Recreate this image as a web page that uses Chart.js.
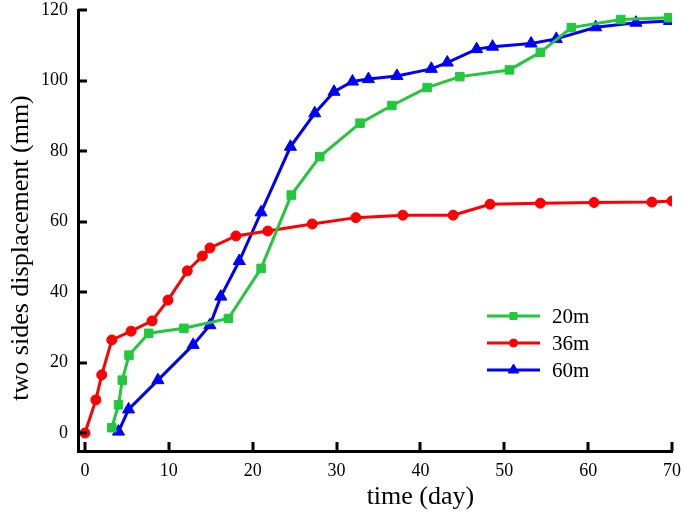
<!DOCTYPE html>
<html>
<head>
<meta charset="utf-8">
<script src="https://cdn.jsdelivr.net/npm/chart.js@4.4.1/dist/chart.umd.min.js"></script>
<style>
  body { margin: 0; background: #fff; }
</style>
</head>
<body>
<canvas id="dispChart" width="685" height="514"></canvas>
<script>
// data
const days20 = [3.2, 4.0, 4.45, 5.25, 7.6, 11.8, 17.1, 21.0, 24.6, 28.0, 32.8, 36.6, 40.8, 44.7, 50.6, 54.3, 58.0, 63.9, 69.6];
const disp20 = [1.5, 8.0, 15.0, 22.1, 28.3, 29.7, 32.5, 46.7, 67.5, 78.4, 87.9, 92.9, 98.0, 101.1, 103.0, 108.0, 115.0, 117.3, 117.8];

const days36 = [0, 1.3, 2.0, 3.2, 5.5, 8.0, 9.9, 12.2, 14.0, 14.9, 18.0, 21.8, 27.1, 32.3, 37.9, 43.9, 48.3, 54.3, 60.7, 67.6, 70];
const disp36 = [0, 9.4, 16.5, 26.4, 28.9, 31.8, 37.7, 46.0, 50.2, 52.5, 55.9, 57.3, 59.3, 61.1, 61.8, 61.8, 64.9, 65.2, 65.4, 65.5, 65.8];

const days60 = [4.0, 5.2, 8.7, 12.9, 14.9, 16.2, 18.4, 21.0, 24.5, 27.4, 29.7, 31.9, 33.8, 37.2, 41.3, 43.2, 46.7, 48.6, 53.2, 56.2, 60.9, 65.7, 69.7];
const disp60 = [0.4, 6.7, 15.0, 25.0, 30.6, 38.7, 48.8, 62.6, 81.2, 90.7, 96.8, 99.7, 100.4, 101.3, 103.3, 105.1, 108.9, 109.6, 110.5, 111.8, 115.1, 116.4, 116.9];

const seriesNames = ['20m', '36m', '60m'];
const xTicks = [0, 10, 20, 30, 40, 50, 60, 70];
const yTicks = [0, 20, 40, 60, 80, 100, 120];

const SERIF = '"Liberation Serif", "Times New Roman", serif';

function pts(xs, ys) {
  return xs.map((x, i) => ({ x: x, y: ys[i] }));
}

// ticks point inwards, so draw them by hand on the scales
const inwardTicks = {
  id: 'inwardTicks',
  afterDraw(chart) {
    const { ctx, chartArea, scales } = chart;
    ctx.save();
    ctx.strokeStyle = '#000';
    ctx.lineWidth = 3;
    ctx.beginPath();
    xTicks.forEach(v => {
      const px = Math.round(scales.x.getPixelForValue(v));
      ctx.moveTo(px, chartArea.bottom);
      ctx.lineTo(px, chartArea.bottom - 9);
    });
    yTicks.forEach(v => {
      const py = Math.round(scales.y.getPixelForValue(v));
      ctx.moveTo(chartArea.left, py);
      ctx.lineTo(chartArea.left + 9, py);
    });
    ctx.stroke();

    // axis titles
    ctx.fillStyle = '#000';
    ctx.font = '26px ' + SERIF;
    ctx.textAlign = 'center';
    ctx.textBaseline = 'middle';
    ctx.fillText('time (day)', scales.x.getPixelForValue(40), 497);
    ctx.translate(21, scales.y.getPixelForValue(52.5));
    ctx.rotate(-Math.PI / 2);
    ctx.fillText('two sides displacement (mm)', 0, 0);
    ctx.restore();
  }
};

// legend sits inside the plot, lower right
const innerLegend = {
  id: 'innerLegend',
  afterDraw(chart) {
    const { ctx } = chart;
    const x0 = 487, x1 = 540, rowY = [316, 343, 370];
    ctx.save();
    chart.data.datasets.forEach((ds, i) => {
      const y = rowY[i];
      ctx.strokeStyle = ds.borderColor;
      ctx.lineWidth = 3;
      ctx.beginPath();
      ctx.moveTo(x0, y);
      ctx.lineTo(x1, y);
      ctx.stroke();
      ctx.fillStyle = ds.backgroundColor;
      ctx.strokeStyle = ds.borderColor;
      ctx.lineWidth = 1;
      Chart.helpers.drawPoint(ctx, { pointStyle: ds.pointStyle, radius: ds.pointRadius - 1, rotation: 0, borderWidth: 1 }, (x0 + x1) / 2, y);
      ctx.fillStyle = '#000';
      ctx.font = '21px ' + SERIF;
      ctx.textAlign = 'left';
      ctx.textBaseline = 'middle';
      ctx.fillText(seriesNames[i], 552, y + 1);
    });
    ctx.restore();
  }
};

function noPad(s) {
  s.paddingTop = 0;
  s.paddingBottom = 0;
  s.paddingLeft = 0;
  s.paddingRight = 0;
}

const ctx = document.getElementById('dispChart').getContext('2d');
const dispChart = new Chart(ctx, {
  type: 'line',
  data: {
    datasets: [
      {
        label: seriesNames[0],
        data: pts(days20, disp20),
        borderColor: '#22c83c',
        backgroundColor: '#22c83c',
        pointStyle: 'rect',
        pointRadius: 6
      },
      {
        label: seriesNames[1],
        data: pts(days36, disp36),
        borderColor: '#ff0000',
        backgroundColor: '#ff0000',
        pointStyle: 'circle',
        pointRadius: 5
      },
      {
        label: seriesNames[2],
        data: pts(days60, disp60),
        borderColor: '#0000ff',
        backgroundColor: '#0000ff',
        pointStyle: 'triangle',
        pointRadius: 7
      }
    ]
  },
  options: {
    responsive: false,
    animation: false,
    layout: { padding: { top: 10, right: 13, left: 0, bottom: 0 } },
    elements: {
      line: { borderWidth: 3, tension: 0 },
      point: { borderWidth: 1 }
    },
    plugins: {
      legend: { display: false },
      tooltip: { enabled: false }
    },
    scales: {
      x: {
        type: 'linear',
        min: -0.83,
        max: 70,
        afterBuildTicks: s => { s.ticks = xTicks.map(v => ({ value: v })); },
        afterFit: s => { s.height = 63; noPad(s); },
        grid: { display: false, drawTicks: false },
        border: { display: true, color: '#000', width: 3 },
        ticks: { color: '#000', padding: 9, font: { family: SERIF, size: 18 } }
      },
      y: {
        type: 'linear',
        min: -5.1,
        max: 120,
        afterBuildTicks: s => { s.ticks = yTicks.map(v => ({ value: v })); },
        afterFit: s => { s.width = 78; noPad(s); },
        grid: { display: false, drawTicks: false },
        border: { display: true, color: '#000', width: 3 },
        ticks: { color: '#000', padding: 10, font: { family: SERIF, size: 18 } }
      }
    }
  },
  plugins: [inwardTicks, innerLegend]
});
</script>
</body>
</html>
